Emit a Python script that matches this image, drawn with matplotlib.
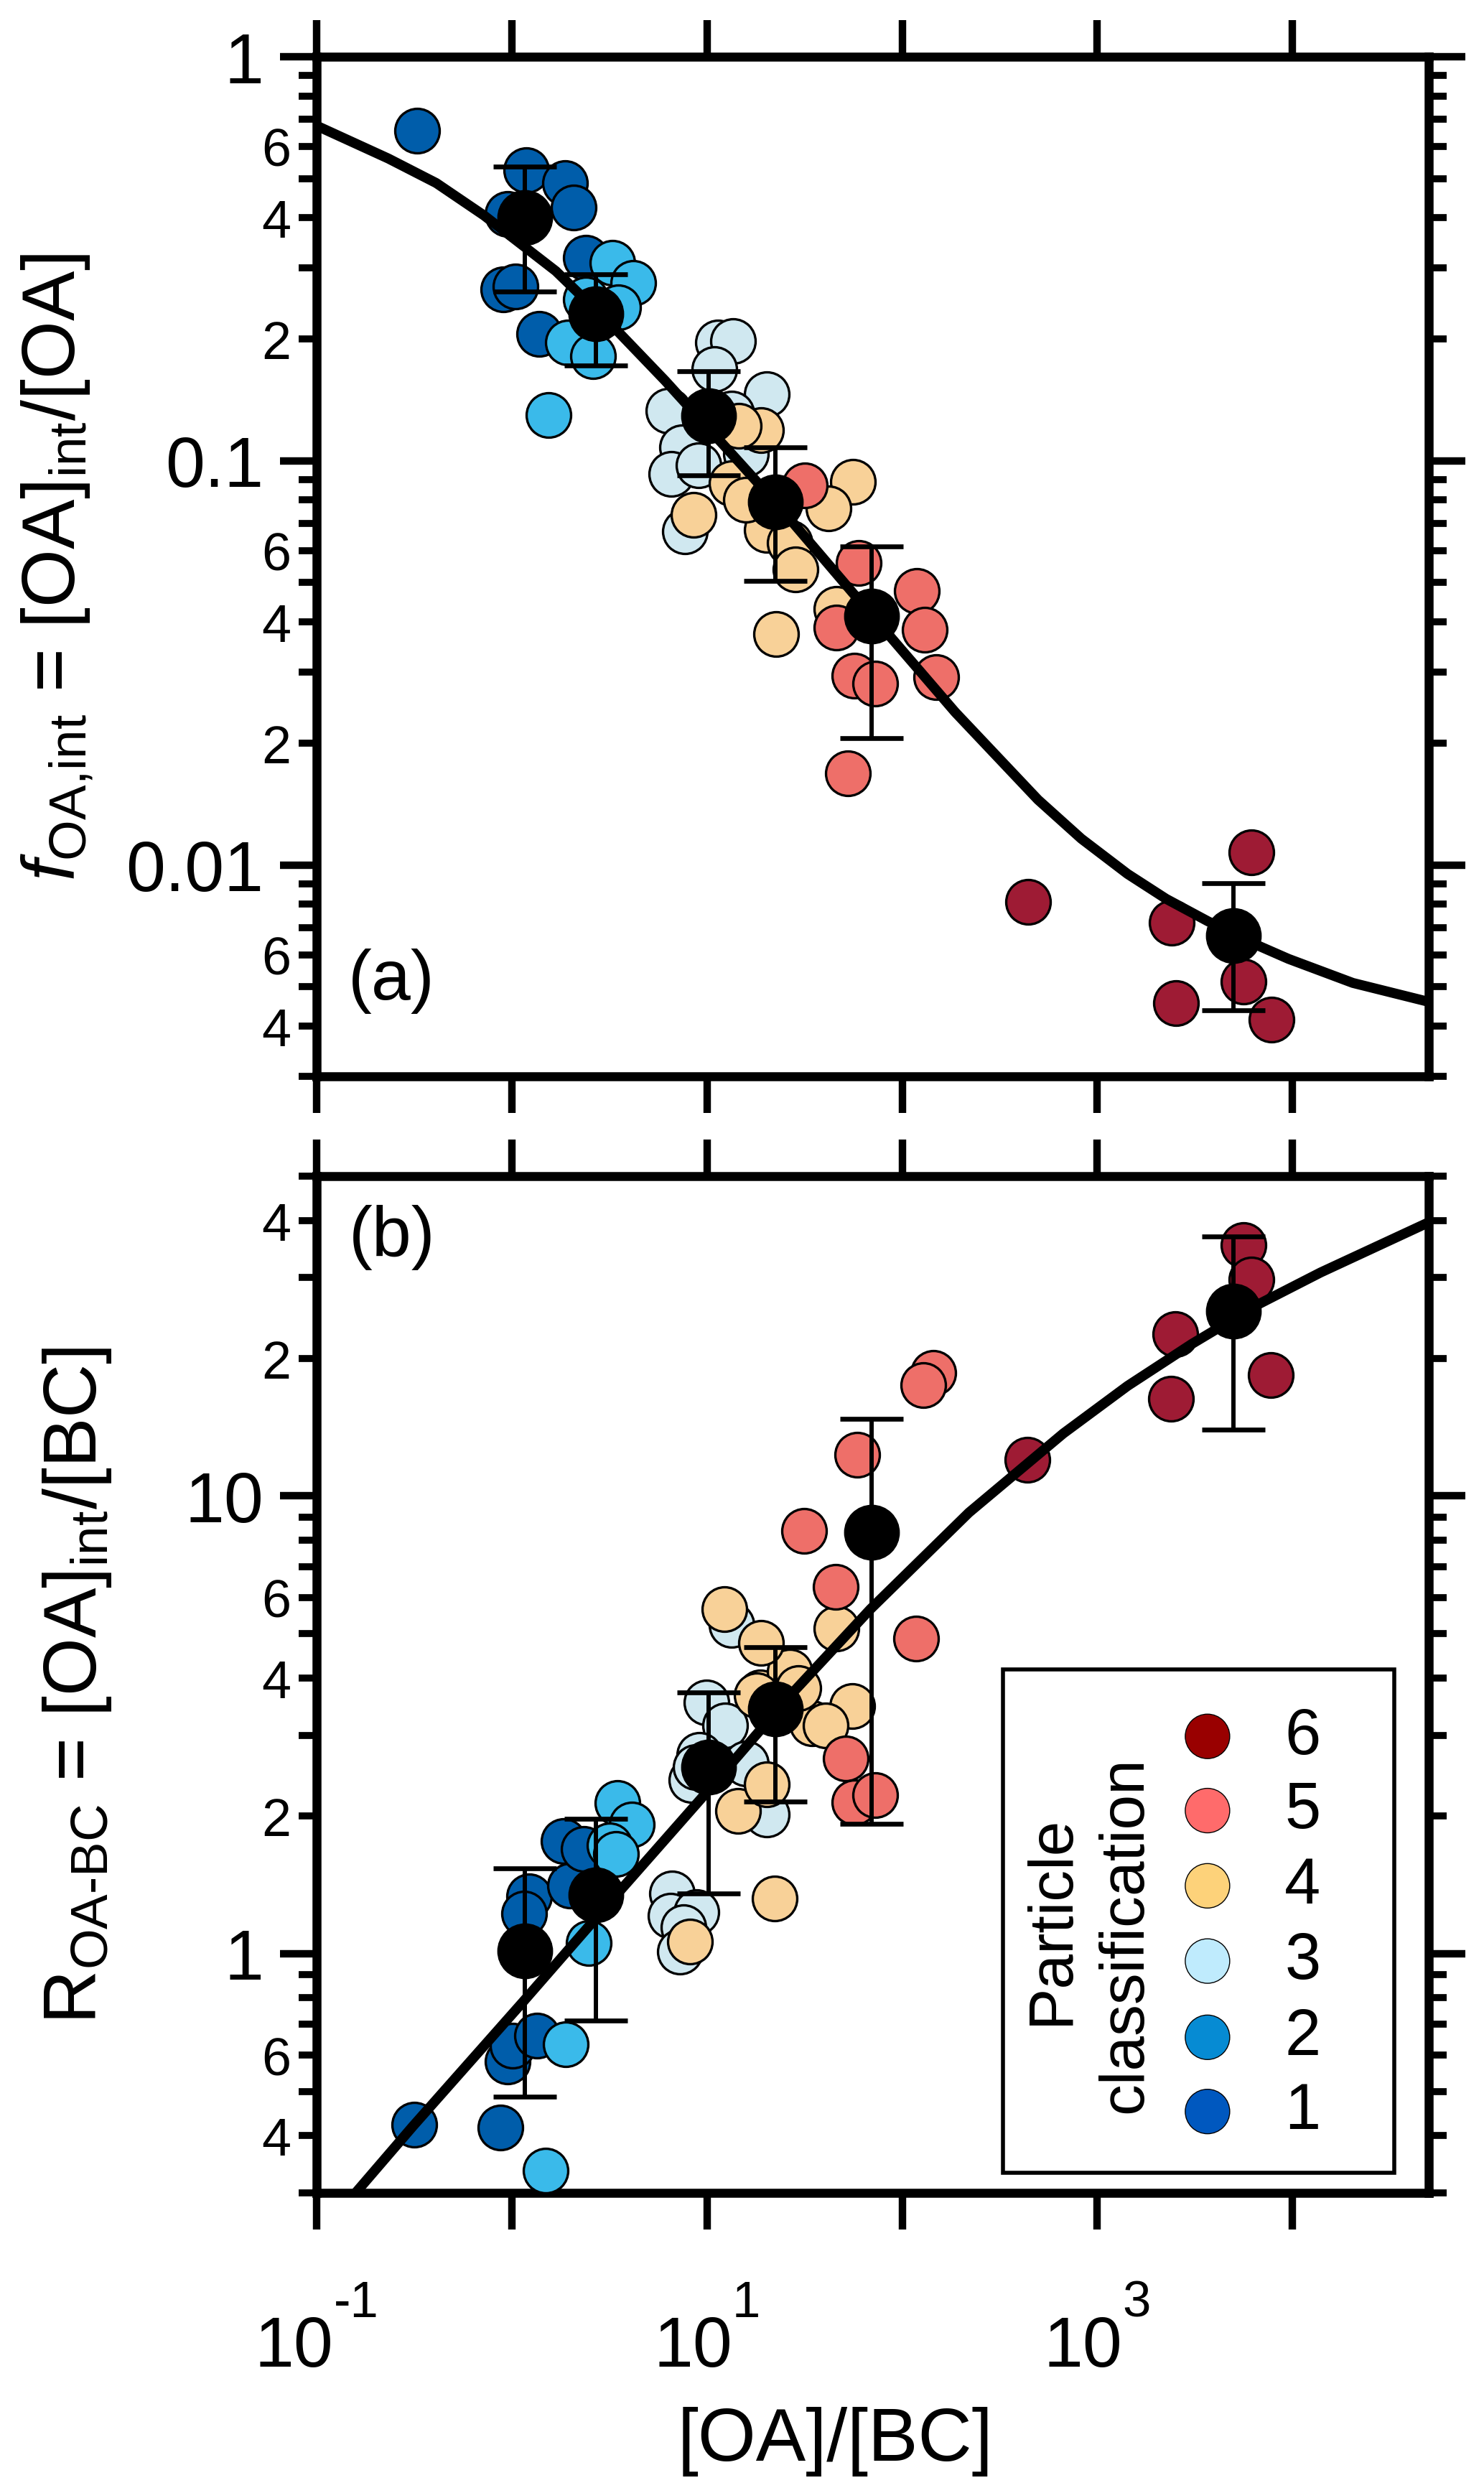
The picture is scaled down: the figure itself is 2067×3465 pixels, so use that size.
import matplotlib
matplotlib.use('Agg')
import matplotlib.pyplot as plt
from matplotlib.ticker import FixedLocator, FixedFormatter, NullLocator, NullFormatter
from matplotlib.patches import Rectangle

plt.rcParams['font.family'] = ['Liberation Sans', 'DejaVu Sans']
plt.rcParams['mathtext.fontset'] = 'custom'
plt.rcParams['mathtext.rm'] = 'Liberation Sans'
plt.rcParams['mathtext.it'] = 'Liberation Sans:italic'
plt.rcParams['mathtext.bf'] = 'Liberation Sans:bold'
plt.rcParams['mathtext.default'] = 'rm'

# ---------------- data : panel (a) f_OA,int ----------------
a_x1 = [0.326, 1.19, 1.88, 2.07, 0.955, 0.906, 1.04, 2.39, 1.38]
a_y1 = [0.657, 0.524, 0.487, 0.423, 0.408, 0.266, 0.270, 0.318, 0.206]
a_x2 = [3.27, 4.20, 3.52, 2.39, 1.93, 2.60, 1.54]
a_y2 = [0.309, 0.276, 0.240, 0.251, 0.196, 0.182, 0.130]
a_x3 = [11.4, 13.6, 10.9, 6.36, 20.2, 7.47, 6.56, 9.09, 15.8, 13.4, 7.71]
a_y3 = [0.196, 0.198, 0.1686, 0.133, 0.1465, 0.108, 0.093, 0.0976, 0.1043, 0.1307, 0.0669]
a_x4 = [18.9, 8.51, 13.4, 56.1, 42.0, 20.2, 26.6, 28.4, 22.6, 46.2, 15.8, 14.5]
a_y4 = [0.119, 0.0735, 0.088, 0.0887, 0.0763, 0.0675, 0.0626, 0.0538, 0.0373, 0.043, 0.080, 0.122]
a_x5 = [31.8, 60.0, 46.2, 118.6, 130.9, 149.3, 57.1, 72.9, 52.7]
a_y5 = [0.0871, 0.0559, 0.0387, 0.0476, 0.0383, 0.0292, 0.0294, 0.0281, 0.01686]
a_x6 = [441, 6170, 2415, 5605, 2525, 7800]
a_y6 = [0.00811, 0.01077, 0.00719, 0.00516, 0.00456, 0.00414]

mean_x = [1.17, 2.70, 10.2, 22.5, 70.0, 5000]
a_mean = [0.40, 0.2315, 0.1294, 0.0793, 0.0413, 0.00669]
a_lo = [0.262, 0.1725, 0.0922, 0.0504, 0.0206, 0.00437]
a_hi = [0.536, 0.290, 0.1665, 0.108, 0.0614, 0.00901]

a_curve_x = [0.1, 0.233, 0.41, 0.72, 1.68, 3.4, 6.1, 13.9, 22.6, 70.6, 187, 497,
             829, 1429, 2254, 3692, 6530, 9550, 20400, 51600]
a_curve_y = [0.675, 0.56, 0.487, 0.405, 0.295, 0.212, 0.158, 0.102, 0.0787, 0.0413,
             0.0239, 0.01451, 0.01162, 0.00951, 0.00825, 0.00726, 0.00635, 0.00586,
             0.00511, 0.00457]

# ---------------- data : panel (b) R_OA-BC ----------------
b_x1 = [0.316, 0.877, 0.955, 1.013, 1.346, 1.225, 1.156, 1.846, 1.99, 2.335]
b_y1 = [0.422, 0.416, 0.580, 0.628, 0.662, 1.336, 1.223, 1.759, 1.407, 1.692]
b_x2 = [1.896, 1.493, 2.47, 3.476, 4.126, 3.16, 3.41]
b_y2 = [0.634, 0.336, 1.054, 2.133, 1.912, 1.721, 1.648]
b_x3 = [6.625, 6.50, 8.80, 7.57, 7.28, 9.94, 12.39, 15.85, 8.32, 9.16, 20.3, 13.36, 8.75]
b_y3 = [1.352, 1.212, 1.234, 1.14, 1.009, 3.533, 3.154, 2.60, 2.395, 2.718, 2.016, 5.22, 2.56]
b_x4 = [8.16, 14.43, 20.3, 22.14, 18.8, 26.5, 34.5, 12.25, 19.0, 45.9, 55.7, 40.5, 29.5, 18.0]
b_y4 = [1.063, 2.052, 2.34, 1.318, 3.725, 4.136, 3.183, 5.655, 4.77, 5.13, 3.48, 3.15, 3.81, 3.67]
b_x5 = [144.3, 128.8, 58.96, 31.5, 45.6, 117.6, 51.6, 56.7, 72.5]
b_y5 = [18.6, 17.5, 12.31, 8.38, 6.33, 4.88, 2.667, 2.139, 2.218]
b_x6 = [438, 5605, 6170, 2506, 2388, 7745]
b_y6 = [11.99, 35.4, 29.7, 22.6, 16.3, 18.4]

b_mean = [1.013, 1.342, 2.556, 3.42, 8.33, 25.4]
b_lo = [0.487, 0.714, 1.354, 2.146, 1.92, 13.98]
b_hi = [1.536, 1.97, 3.725, 4.67, 14.74, 36.9]

b_curve_x = [0.152, 0.312, 1.134, 3.04, 9.5, 26.6, 68.8, 220, 670, 1429, 3055,
             6530, 13950, 51600]
b_curve_y = [0.294, 0.42, 0.782, 1.267, 2.20, 3.66, 5.66, 9.2, 13.7, 17.4, 21.5,
             26.1, 30.8, 39.9]

# ---------------- classes / colours ----------------
classes = ['1', '2', '3', '4', '5', '6']
point_colors = ['#005DAA', '#3ABAEA', '#D0E8F0', '#F8D198', '#EE6F69', '#9E1B34']
legend_colors = ['#0058BF', '#068BD3', '#BFEBFD', '#FDD27A', '#FF6B6B', '#990000']

# ---------------- ticks ----------------
x_ticks = [0.1, 1, 10, 100, 1000, 10000]
x_label_ticks = [0.1, 10, 1000]
x_label_base = ['10', '10', '10']
x_label_exp = ['-1', '1', '3']

a_major_ticks = [0.01, 0.1, 1]
a_major_labels = ['0.01', '0.1', '1']
a_minor_ticks = [0.003, 0.004, 0.005, 0.006, 0.007, 0.008, 0.009,
                 0.02, 0.03, 0.04, 0.05, 0.06, 0.07, 0.08, 0.09,
                 0.2, 0.3, 0.4, 0.5, 0.6, 0.7, 0.8, 0.9]
a_minor_labels = ['', '4', '', '6', '', '', '',
                  '2', '', '4', '', '6', '', '', '',
                  '2', '', '4', '', '6', '', '', '']

b_major_ticks = [1, 10]
b_major_labels = ['1', '10']
b_minor_ticks = [0.3, 0.4, 0.5, 0.6, 0.7, 0.8, 0.9,
                 2, 3, 4, 5, 6, 7, 8, 9, 20, 30, 40, 50]
b_minor_labels = ['', '4', '', '6', '', '', '',
                  '2', '', '4', '', '6', '', '', '', '2', '', '4', '']

a_xs = [a_x1, a_x2, a_x3, a_x4, a_x5, a_x6]
a_ys = [a_y1, a_y2, a_y3, a_y4, a_y5, a_y6]
b_xs = [b_x1, b_x2, b_x3, b_x4, b_x5, b_x6]
b_ys = [b_y1, b_y2, b_y3, b_y4, b_y5, b_y6]

DPI = 100
fig = plt.figure(figsize=(20.67, 34.66), dpi=DPI)
ax1 = fig.add_axes([0.2134, 0.5672, 0.7494, 0.4097])
ax2 = fig.add_axes([0.2134, 0.1186, 0.7494, 0.4085])

MS = 1990  # scatter marker area (pt^2)


def draw(ax, xs, ys, cx, cy, mean, lo, hi):
    for x, y, col in zip(xs, ys, point_colors):
        ax.scatter(x, y, s=MS, c=col, edgecolors='black', linewidths=2.4, zorder=3)
    ax.plot(cx, cy, color='black', lw=10, zorder=4, solid_capstyle='butt',
            solid_joinstyle='round')
    yerr = [[m - l for m, l in zip(mean, lo)], [h - m for m, h in zip(mean, hi)]]
    ax.errorbar(mean_x, mean, yerr=yerr, fmt='o', color='black', ms=55,
                elinewidth=4.3, capsize=32, capthick=4.8, zorder=5)


def style(ax, ylim, ymaj, ymaj_lab, ymin, ymin_lab):
    ax.set_xscale('log')
    ax.set_yscale('log')
    ax.set_xlim(0.1, 5e4)
    ax.set_ylim(*ylim)
    for s in ax.spines.values():
        s.set_linewidth(9)
    ax.xaxis.set_major_locator(FixedLocator(x_ticks))
    ax.xaxis.set_major_formatter(NullFormatter())
    ax.xaxis.set_minor_locator(NullLocator())
    ax.yaxis.set_major_locator(FixedLocator(ymaj))
    ax.yaxis.set_major_formatter(FixedFormatter(ymaj_lab))
    ax.yaxis.set_minor_locator(FixedLocator(ymin))
    ax.yaxis.set_minor_formatter(FixedFormatter(ymin_lab))
    ax.tick_params(which='both', direction='out', top=True, right=True,
                   labeltop=False, labelright=False)
    ax.tick_params(which='major', length=37, width=7.5, labelsize=71, pad=16)
    ax.tick_params(which='minor', length=18, width=7, labelsize=53, pad=8)


draw(ax1, a_xs, a_ys, a_curve_x, a_curve_y, a_mean, a_lo, a_hi)
draw(ax2, b_xs, b_ys, b_curve_x, b_curve_y, b_mean, b_lo, b_hi)

style(ax1, (0.003, 1), a_major_ticks, a_major_labels, a_minor_ticks, a_minor_labels)
style(ax2, (0.3, 50), b_major_ticks, b_major_labels, b_minor_ticks, b_minor_labels)

# x tick labels "10" with raised exponent, centred under the ticks
renderer = fig.canvas.get_renderer()
for tick, base, ex in zip(x_label_ticks, x_label_base, x_label_exp):
    t10 = ax2.annotate(base, xy=(tick, 0), xycoords=('data', 'axes fraction'),
                       xytext=(0, -173.5), textcoords='offset points',
                       ha='left', va='baseline', fontsize=71, annotation_clip=False)
    tex = ax2.annotate(ex, xy=(tick, 0), xycoords=('data', 'axes fraction'),
                       xytext=(0, -123.8), textcoords='offset points',
                       ha='left', va='baseline', fontsize=51, annotation_clip=False)
    w10 = t10.get_window_extent(renderer).width * 72.0 / DPI
    wex = tex.get_window_extent(renderer).width * 72.0 / DPI
    left = -(w10 + wex) / 2.0
    t10.xyann = (left, -173.5)
    tex.xyann = (left + w10, -123.8)

ax1.text(0.067, 0.094, '(a)', transform=ax1.transAxes, ha='center', va='center', fontsize=71)
ax2.text(0.068, 0.9405, '(b)', transform=ax2.transAxes, ha='center', va='center', fontsize=71)

# legend (manual box inside panel b)
ax2.add_patch(Rectangle((0.617, 0.020), 0.352, 0.495, transform=ax2.transAxes,
                        facecolor='white', edgecolor='black', lw=4, zorder=6))
leg_y = [0.080, 0.153, 0.228, 0.302, 0.376, 0.449]
ax2.scatter([0.801] * 6, leg_y, s=MS, c=legend_colors, edgecolors='black',
            linewidths=1.0, transform=ax2.transAxes, zorder=7, clip_on=False)
for yy, lab in zip(leg_y, classes):
    ax2.text(0.8866, yy, lab, transform=ax2.transAxes, ha='center', va='center',
             fontsize=65, zorder=8)
ax2.text(0.661, 0.269, 'Particle', transform=ax2.transAxes, rotation=90,
         ha='center', va='center', fontsize=63, zorder=8)
ax2.text(0.7276, 0.2546, 'classification', transform=ax2.transAxes, rotation=90,
         ha='center', va='center', fontsize=63, zorder=8)

ax1.set_xlim(0.1, 5e4)
ax2.set_xlim(0.1, 5e4)
ax1.set_ylim(0.003, 1)
ax2.set_ylim(0.3, 50)

# axis labels
fig.text(0.0385, 0.772, r'$\mathit{f}_{\text{OA,int}}$ = [OA]$_{\text{int}}$/[OA]',
         rotation=90, ha='center', va='center', fontsize=75)
fig.text(0.0519, 0.3229, r'R$_{\text{OA-BC}}$ = [OA]$_{\text{int}}$/[BC]',
         rotation=90, ha='center', va='center', fontsize=75)
fig.text(0.5627, 0.019, '[OA]/[BC]', ha='center', va='center', fontsize=75)

fig.savefig('out.png', dpi=DPI)
